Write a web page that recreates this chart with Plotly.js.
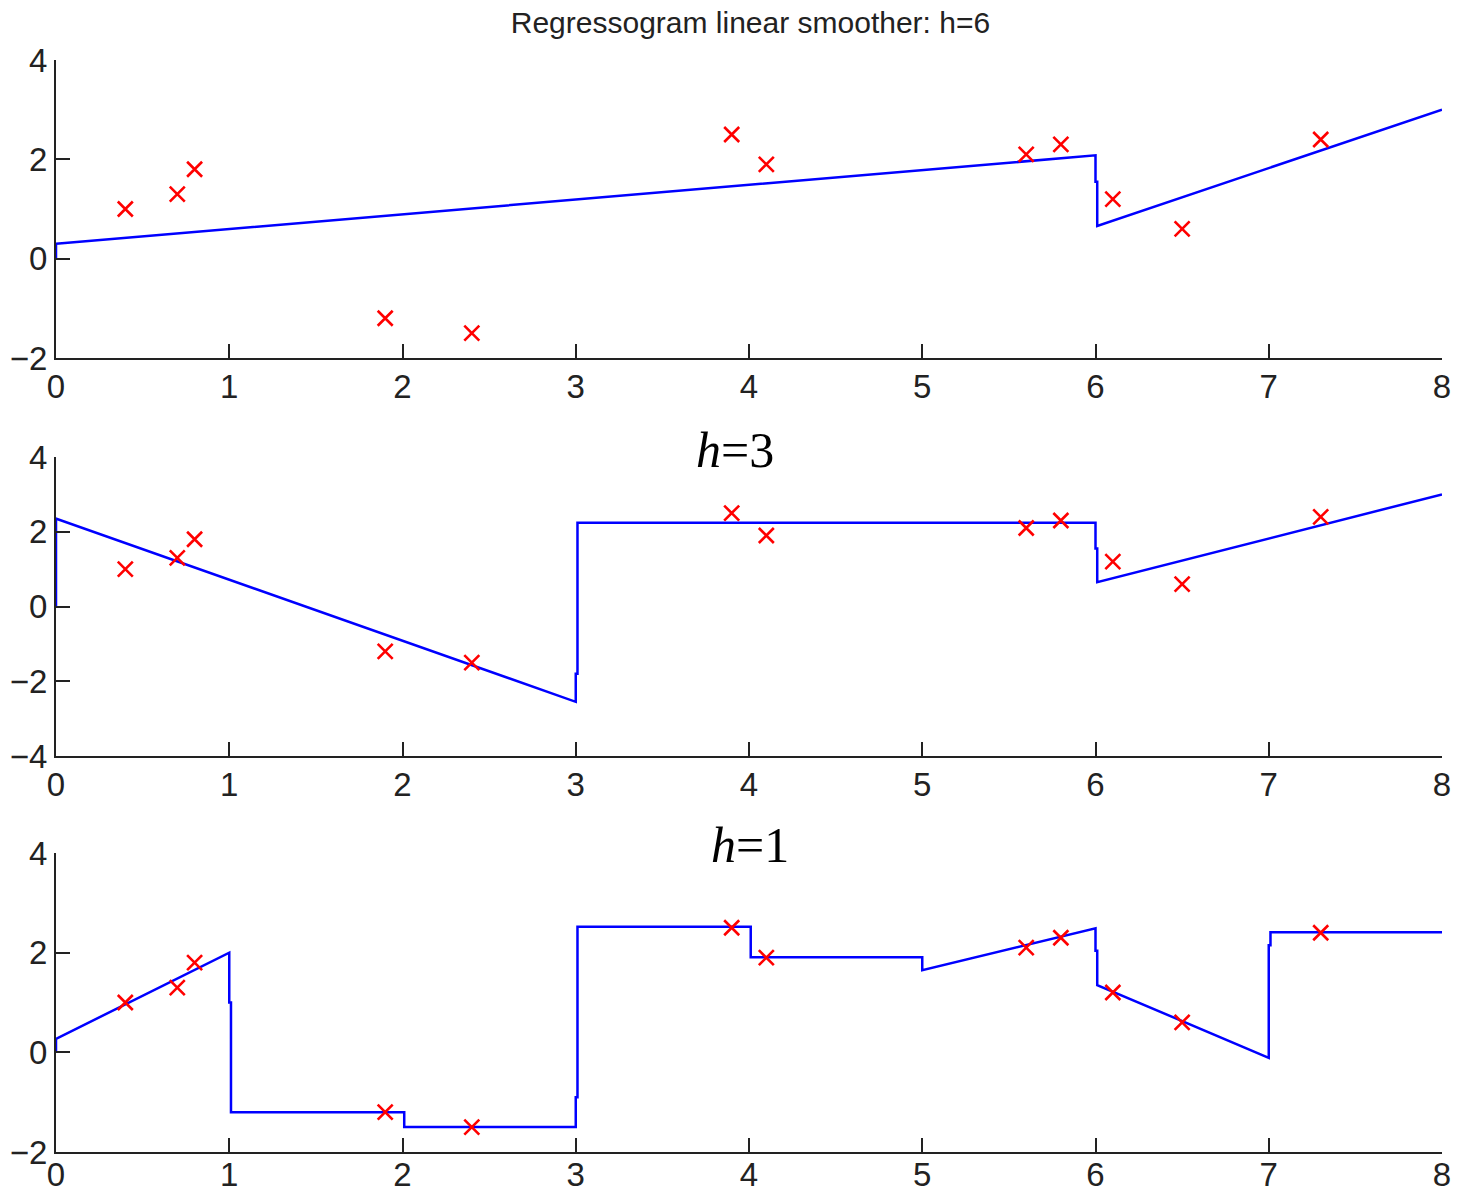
<!DOCTYPE html>
<html>
<head>
<meta charset="utf-8">
<script src="https://cdn.plot.ly/plotly-3.0.1.min.js"></script>
<style>html,body{margin:0;padding:0;background:#fff;}#chart{width:1460px;height:1192px;}</style>
</head>
<body>
<div id="chart"></div>
<script>
// Observed data points (same in all panels)
const pointX = [0.4, 0.7, 0.8, 1.9, 2.4, 3.9, 4.1, 5.6, 5.8, 6.1, 6.5, 7.3];
const pointY = [1.0, 1.3, 1.8, -1.2, -1.5, 2.5, 1.9, 2.1, 2.3, 1.2, 0.6, 2.4];

// Smoother curves (vertices)
const h6X = [0, 0, 6.0, 6.0, 6.01, 6.01, 8];
const h6Y = [0, 0.30, 2.08, 1.55, 1.55, 0.66, 3.0];

const h3X = [0, 0, 3.0, 3.0, 3.01, 3.01, 6.0, 6.0, 6.01, 6.01, 8];
const h3Y = [0, 2.35, -2.55, -1.8, -1.8, 2.24, 2.24, 1.55, 1.55, 0.65, 3.0];

const h1X = [0, 0, 1.0, 1.0, 1.01, 1.01, 2.0, 2.01, 2.01, 3.0, 3.0, 3.01, 3.01, 4.0, 4.01, 4.01, 5.0, 5.0, 6.0, 6.0, 6.01, 6.01, 7.0, 7.0, 7.01, 7.01, 8];
const h1Y = [0, 0.27, 2.0, 1.0, 1.0, -1.2, -1.2, -1.2, -1.5, -1.5, -0.9, -0.9, 2.52, 2.52, 2.52, 1.91, 1.91, 1.65, 2.49, 2.04, 2.04, 1.35, -0.11, 2.15, 2.15, 2.41, 2.41];

const titleText = "Regressogram linear smoother: h=6";
const panelLabels = ["<i>h</i>=3", "<i>h</i>=1"];
const xTicks = [0, 1, 2, 3, 4, 5, 6, 7, 8];

const lineStyle = {color: "#0000ff", width: 2.5};
const markerStyle = {symbol: "x-thin-open", size: 15, color: "#ff0000", line: {color: "#ff0000", width: 2.6}};

function lineTrace(x, y, ax) {
  return {x: x, y: y, xaxis: "x" + ax, yaxis: "y" + ax, mode: "lines", line: lineStyle, hoverinfo: "skip", showlegend: false};
}
function ptTrace(ax) {
  return {x: pointX, y: pointY, xaxis: "x" + ax, yaxis: "y" + ax, mode: "markers", marker: markerStyle, hoverinfo: "skip", showlegend: false};
}

const traces = [
  lineTrace(h6X, h6Y, ""), ptTrace(""),
  lineTrace(h3X, h3Y, "2"), ptTrace("2"),
  lineTrace(h1X, h1Y, "3"), ptTrace("3")
];

const tickFont = {family: "Liberation Sans, Arial, sans-serif", size: 33, color: "#222"};

function xax(anchor, standoff) {
  return {
    domain: [0, 1], range: [0, 8], tickvals: xTicks, anchor: anchor,
    showline: true, linecolor: "#222", linewidth: 2, mirror: false,
    ticks: "inside", ticklen: 14, tickwidth: 2, tickcolor: "#222",
    showgrid: false, zeroline: false, tickfont: tickFont, ticklabelstandoff: standoff
  };
}
function yax(anchor, domain, range, vals) {
  return {
    domain: domain, range: range, tickvals: vals, anchor: anchor,
    showline: true, linecolor: "#222", linewidth: 2, mirror: false,
    ticks: "inside", ticklen: 14, tickwidth: 2, tickcolor: "#222",
    showgrid: false, zeroline: false, tickfont: tickFont, ticklabelstandoff: 0
  };
}

const H = 1192;
const layout = {
  width: 1460, height: H,
  margin: {l: 56, r: 18, t: 0, b: 0},
  paper_bgcolor: "#fff", plot_bgcolor: "#fff",
  showlegend: false,
  title: {text: titleText, font: {family: "Liberation Sans, Arial, sans-serif", size: 30, color: "#222"}, x: 0.514, xanchor: "center", y: 1 - 22 / H, yanchor: "middle"},
  xaxis: xax("y", -2),
  yaxis: yax("x", [1 - 358 / H, 1 - 60 / H], [-2, 4], [-2, 0, 2, 4]),
  xaxis2: xax("y2", -2),
  yaxis2: yax("x2", [1 - 756 / H, 1 - 457 / H], [-4, 4], [-4, -2, 0, 2, 4]),
  xaxis3: xax("y3", -8),
  yaxis3: yax("x3", [1 - 1152 / H, 1 - 853 / H], [-2, 4], [-2, 0, 2, 4]),
  annotations: [
    {text: panelLabels[0], xref: "paper", yref: "paper", x: (735 - 56) / 1386, y: 1 - 450 / H, xanchor: "center", yanchor: "middle", showarrow: false, font: {family: "Liberation Serif, serif", size: 50, color: "#000"}},
    {text: panelLabels[1], xref: "paper", yref: "paper", x: (750 - 56) / 1386, y: 1 - 845 / H, xanchor: "center", yanchor: "middle", showarrow: false, font: {family: "Liberation Serif, serif", size: 50, color: "#000"}}
  ]
};

Plotly.newPlot("chart", traces, layout, {displayModeBar: false, staticPlot: true});
</script>
</body>
</html>
